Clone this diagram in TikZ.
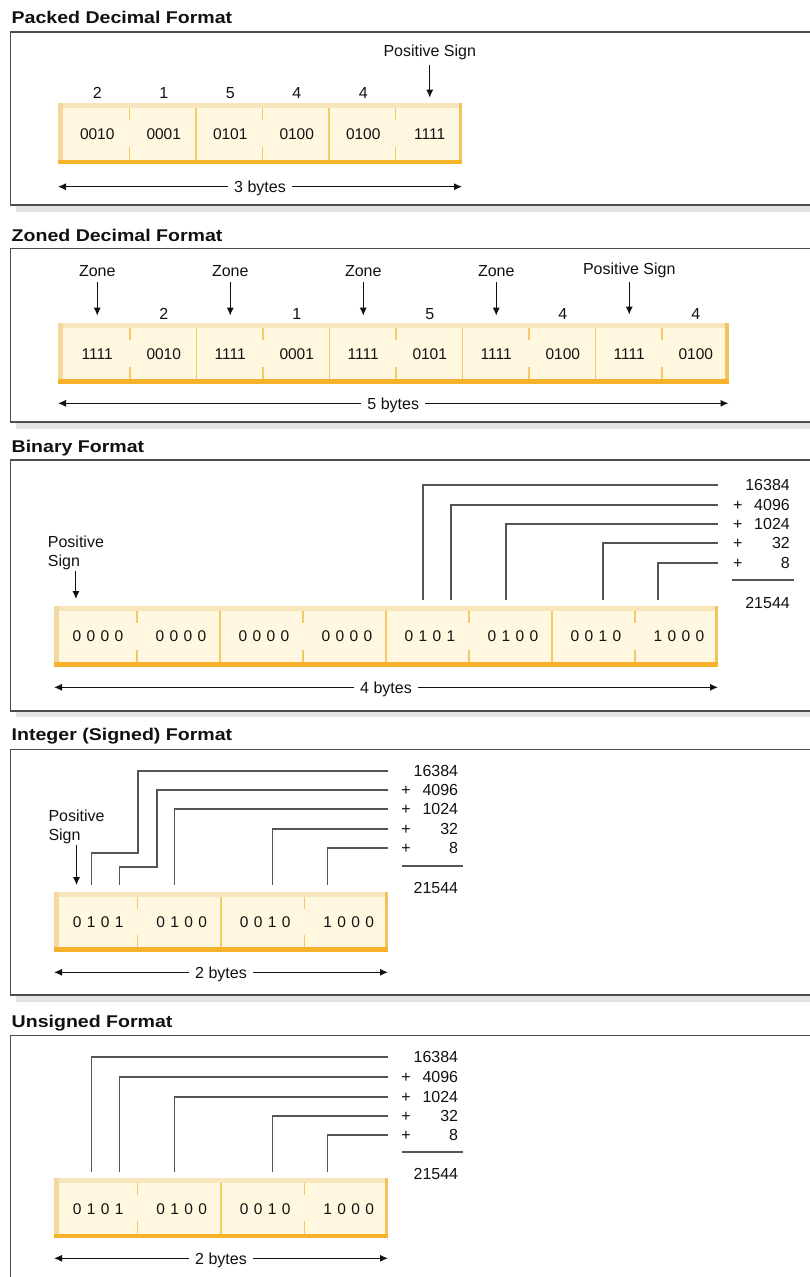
\documentclass[tikz,border=0pt]{standalone}
\usepackage{fontspec}
\setmainfont{Liberation Sans}
\newfontfamily\headfont[FakeStretch=1.15]{Liberation Sans}
\usetikzlibrary{arrows.meta}

\definecolor{cream}{HTML}{FFF7DF}
\definecolor{tanband}{HTML}{F7E6BC}
\definecolor{tanedge}{HTML}{F3D9A1}
\definecolor{ochre}{HTML}{F6B22B}
\definecolor{ochreedge}{HTML}{F4C45C}
\definecolor{divider}{HTML}{F5C967}
\definecolor{framegray}{HTML}{4D4D4D}
\definecolor{shadegray}{HTML}{E3E3E3}
\definecolor{ink}{HTML}{111111}
\definecolor{leadgray}{HTML}{555555}

\def\bodysize{\fontsize{16}{19}\selectfont}
\tikzstyle{heading}=[anchor=base west,inner sep=0pt,text=ink,font=\headfont\bfseries\fontsize{17}{20}\selectfont]
\tikzstyle{lbl}=[inner sep=0pt,text=ink,text height=11.5pt,text depth=0pt,font=\bodysize]
\tikzstyle{twoline}=[inner sep=0pt,text=ink,align=left,anchor=north west,font=\bodysize]
\tikzstyle{nibble}=[lbl,font=\fontsize{15.5}{19}\selectfont]
\tikzstyle{weight}=[lbl,anchor=east]
\tikzstyle{bytelabel}=[lbl,fill=white,inner xsep=6pt]
\tikzstyle{signarrow}=[draw=ink,line width=1pt,-{Latex[length=8pt,width=7pt]}]
\tikzstyle{sizearrow}=[draw=ink,line width=1pt,{Latex[length=8pt,width=7pt]}-{Latex[length=8pt,width=7pt]}]
\tikzstyle{bitline}=[draw=leadgray,line width=1.1pt]
\tikzstyle{panelbox}=[draw=framegray,line width=1.5pt]

% strip of cells: left, top, right, bottom
\def\cellrow#1#2#3#4{%
  \fill[cream] (#1,#2) rectangle (#3,#4);
  \fill[tanband] (#1,#2) rectangle (#3,#2+5);
  \fill[tanedge] (#1,#2) rectangle (#1+5,#4);
  \fill[ochreedge] (#3-3.5,#2) rectangle (#3,#4);
  \fill[ochre] (#1,#4-4.5) rectangle (#3,#4);
}
\def\bytebar#1#2#3{\draw[divider,line width=1.3pt] (#1,#2+5) -- (#1,#3-4.5);}
\def\nibblebar#1#2#3{\draw[divider,line width=1.3pt] (#1,#2+5) -- (#1,#2+17) (#1,#3-17) -- (#1,#3-4.5);}

\begin{document}
\begin{tikzpicture}[x=1pt,y=-1pt]
\useasboundingbox (0,0) rectangle (809,1277);

% packed decimal
\node[heading] (packedhead) at (11.5,23.3) {Packed Decimal Format};
\fill[shadegray] (16,205) rectangle (815,212);
\draw[panelbox] (10.5,32) rectangle (815,205);
\cellrow{58}{103}{462}{164}
\foreach \k in {2,4} {\bytebar{63+66.5*\k}{103}{164}}
\foreach \k in {1,3,5} {\nibblebar{63+66.5*\k}{103}{164}}
\foreach \i/\bits in {1/0010,2/0001,3/0101,4/0100,5/0100,6/1111}
  \node[nibble] (pk\i) at ({64+66.5*(\i-0.5)},133.5) {\bits};
\foreach \i/\d in {1/2,2/1,3/5,4/4,5/4}
  \node[lbl] (pkdigit\i) at (pk\i |- 0,93) {\d};
\node[lbl] (pksign) at (pk6 |- 0,51) {Positive Sign};
\draw[signarrow,shorten <=8pt,shorten >=30pt] (pksign.south) -- (pksign.south |- pk6.north);
\coordinate (pkleft) at (58,186.7);
\coordinate (pkright) at (462,186.7);
\draw[sizearrow] (pkleft) -- (pkright) node[bytelabel,midway] (pkbytes) {3 bytes};

% zoned decimal
\node[heading] (zonedhead) at (11.5,241.5) {Zoned Decimal Format};
\fill[shadegray] (16,422) rectangle (815,429);
\draw[panelbox] (10.5,248.3) rectangle (815,422);
\cellrow{58}{323.3}{728.5}{383.5}
\foreach \k in {2,4,6,8} {\bytebar{63.5+66.5*\k}{323.3}{383.5}}
\foreach \k in {1,3,5,7,9} {\nibblebar{63.5+66.5*\k}{323.3}{383.5}}
\foreach \i/\bits in {1/1111,2/0010,3/1111,4/0001,5/1111,6/0101,7/1111,8/0100,9/1111,10/0100}
  \node[nibble] (zn\i) at ({64+66.5*(\i-0.5)},353.5) {\bits};
\foreach \i/\d in {2/2,4/1,6/5,8/4,10/4}
  \node[lbl] (zndigit\i) at (zn\i |- 0,313.5) {\d};
\foreach \i in {1,3,5,7} {
  \node[lbl] (znzone\i) at (zn\i |- 0,271) {Zone};
  \draw[signarrow,shorten <=5pt,shorten >=32pt] (znzone\i.south) -- (znzone\i.south |- zn\i.north);
}
\node[lbl] (znsign) at (zn9 |- 0,269) {Positive Sign};
\draw[signarrow,shorten <=7pt,shorten >=33pt] (znsign.south) -- (znsign.south |- zn9.north);
\coordinate (znleft) at (58,403.3);
\coordinate (znright) at (728.5,403.3);
\draw[sizearrow] (znleft) -- (znright) node[bytelabel,midway] (znbytes) {5 bytes};

% binary
\node[heading] (binaryhead) at (11.5,452.5) {Binary Format};
\fill[shadegray] (16,711) rectangle (815,717);
\draw[panelbox] (10.5,460) rectangle (815,711);
\cellrow{54}{605.7}{718}{666.7}
\foreach \k in {2,4,6} {\bytebar{54+83*\k}{605.7}{666.7}}
\foreach \k in {1,3,5,7} {\nibblebar{54+83*\k}{605.7}{666.7}}
\foreach \cell/\da/\db/\dc/\dd in {1/0/0/0/0,2/0/0/0/0,3/0/0/0/0,4/0/0/0/0,5/0/1/0/1,6/0/1/0/0,7/0/0/1/0,8/1/0/0/0}
  \foreach \d [count=\k] in {\da,\db,\dc,\dd}
    \node[nibble] (bn\cell\k) at ({56.5+83*(\cell-0.5)+14*(\k-2.5)},636) {\d};
\node[twoline] (bnsign) at (47.7,535.3) {Positive\\Sign};
\draw[signarrow,shorten <=1pt,shorten >=31pt] (bnsign.south) -- (bnsign.south |- bn11.north);
\coordinate (bnright) at (718,0);
\coordinate (bntop) at (0,600);
\coordinate (bnplus) at (737.7,0);
\foreach \w/\n/\y in {1/16384/485,2/4096/505,3/1024/524,4/32/543,5/8/563}
  \node[weight] (bnw\w) at (790,\y) {\n};
\foreach \w in {2,...,5}
  \node[lbl] (bnplus\w) at (bnw\w -| bnplus) {+};
\foreach \w/\d in {1/bn52,2/bn54,3/bn62,4/bn73,5/bn81}
  \draw[bitline] (bnright |- bnw\w) -| (\d |- bntop);
\draw[bitline] (731.7,580) -- (794.3,580);
\node[weight] (bnsum) at (790,602.7) {21544};
\coordinate (bnleft) at (54,687.3);
\coordinate (bnend) at (718,687.3);
\draw[sizearrow] (bnleft) -- (bnend) node[bytelabel,midway] (bnbytes) {4 bytes};

% integer (signed)
\node[heading] (inthead) at (11.5,740) {Integer (Signed) Format};
\fill[shadegray] (16,995) rectangle (815,1002);
\draw[panelbox] (10.5,749.3) rectangle (815,995);
\cellrow{54}{891.7}{388}{951.7}
\bytebar{54+83.5*2}{891.7}{951.7}
\foreach \k in {1,3} {\nibblebar{54+83.5*\k}{891.7}{951.7}}
\foreach \cell/\da/\db/\dc/\dd in {1/0/1/0/1,2/0/1/0/0,3/0/0/1/0,4/1/0/0/0}
  \foreach \d [count=\k] in {\da,\db,\dc,\dd}
    \node[nibble] (in\cell\k) at ({56.5+83.5*(\cell-0.5)+14*(\k-2.5)},922) {\d};
\node[twoline] (insign) at (48.3,809.8) {Positive\\Sign};
\draw[signarrow,shorten <=1pt,shorten >=31pt] (insign.south) -- (insign.south |- in11.north);
\coordinate (inright) at (388,0);
\coordinate (intop) at (0,885);
\coordinate (inplus) at (406,0);
\foreach \w/\n/\y in {1/16384/771,2/4096/790,3/1024/809,4/32/829,5/8/848}
  \node[weight] (inw\w) at (458.3,\y) {\n};
\foreach \w in {2,...,5}
  \node[lbl] (inplus\w) at (inw\w -| inplus) {+};
\draw[bitline] (inright |- inw1) -| (138,853) -| (in12 |- intop);
\draw[bitline] (inright |- inw2) -| (157,867) -| (in14 |- intop);
\foreach \w/\d in {3/in22,4/in33,5/in41}
  \draw[bitline] (inright |- inw\w) -| (\d |- intop);
\draw[bitline] (401.7,866) -- (463.3,866);
\node[weight] (insum) at (458.3,888) {21544};
\coordinate (inleft) at (54,972.3);
\coordinate (inend) at (388,972.3);
\draw[sizearrow] (inleft) -- (inend) node[bytelabel,midway] (inbytes) {2 bytes};

% unsigned
\node[heading] (unshead) at (11.5,1027) {Unsigned Format};
\draw[panelbox] (815,1035.7) -- (10.5,1035.7) -- (10.5,1290);
\cellrow{54}{1178.3}{388}{1238.3}
\bytebar{54+83.5*2}{1178.3}{1238.3}
\foreach \k in {1,3} {\nibblebar{54+83.5*\k}{1178.3}{1238.3}}
\foreach \cell/\da/\db/\dc/\dd in {1/0/1/0/1,2/0/1/0/0,3/0/0/1/0,4/1/0/0/0}
  \foreach \d [count=\k] in {\da,\db,\dc,\dd}
    \node[nibble] (un\cell\k) at ({56.5+83.5*(\cell-0.5)+14*(\k-2.5)},1208.7) {\d};
\coordinate (unright) at (388,0);
\coordinate (untop) at (0,1172);
\coordinate (unplus) at (406,0);
\foreach \w/\n/\y in {1/16384/1057,2/4096/1077,3/1024/1097,4/32/1116,5/8/1135}
  \node[weight] (unw\w) at (458.3,\y) {\n};
\foreach \w in {2,...,5}
  \node[lbl] (unplus\w) at (unw\w -| unplus) {+};
\foreach \w/\d in {1/un12,2/un14,3/un22,4/un33,5/un41}
  \draw[bitline] (unright |- unw\w) -| (\d |- untop);
\draw[bitline] (401.7,1152) -- (463.3,1152);
\node[weight] (unsum) at (458.3,1174) {21544};
\coordinate (unleft) at (54,1258.3);
\coordinate (unend) at (388,1258.3);
\draw[sizearrow] (unleft) -- (unend) node[bytelabel,midway] (unbytes) {2 bytes};

\end{tikzpicture}
\end{document}
